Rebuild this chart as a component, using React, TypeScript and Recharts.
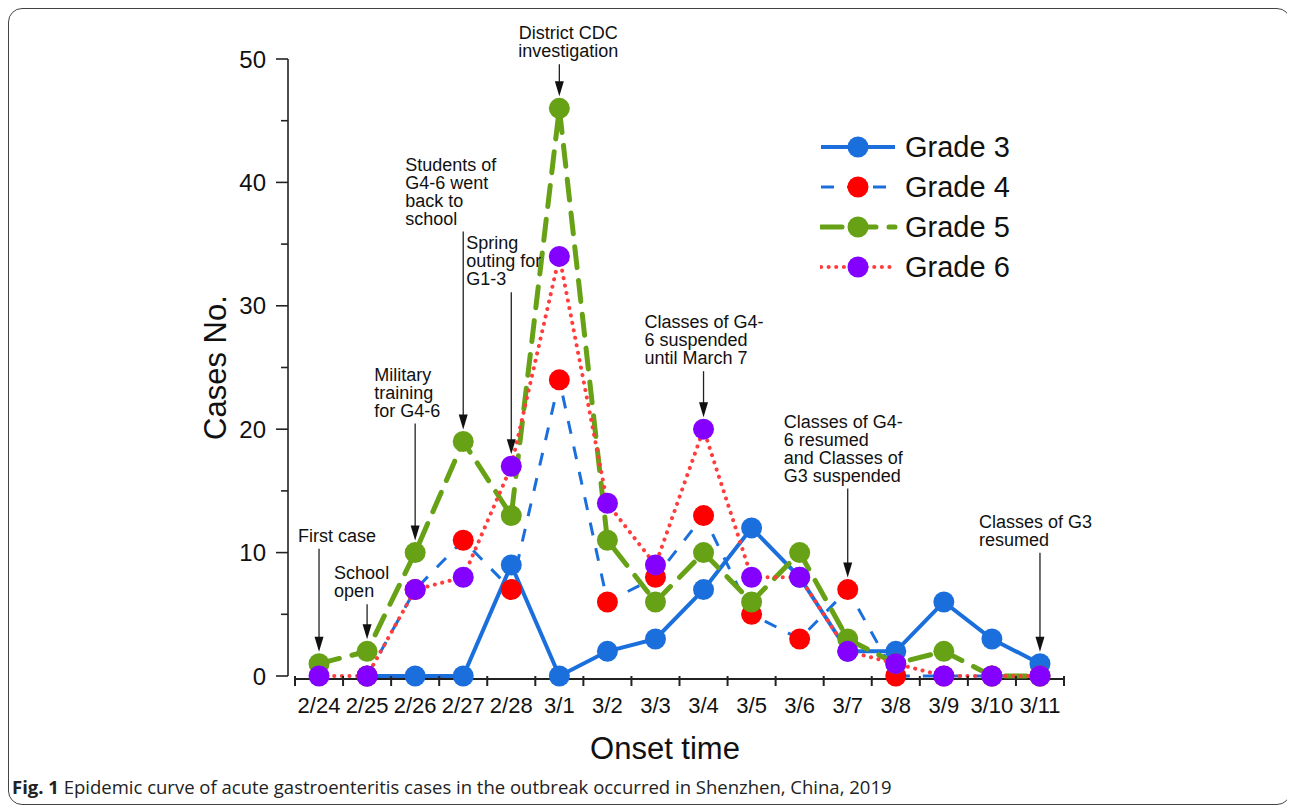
import React from "react";
import {
  Label,
  Legend,
  Line,
  LineChart,
  ReferenceDot,
  ReferenceLine,
  XAxis,
  YAxis
} from "recharts";

const dates = ["2/24", "2/25", "2/26", "2/27", "2/28", "3/1", "3/2", "3/3", "3/4", "3/5", "3/6", "3/7", "3/8", "3/9", "3/10", "3/11"];
const grade3 = [null, 0, 0, 0, 9, 0, 2, 3, 7, 12, 8, 2, 2, 6, 3, 1];
const grade4 = [null, 0, 7, 11, 7, 24, 6, 8, 13, 5, 3, 7, 0, 0, 0, 0];
const grade5 = [1, 2, 10, 19, 13, 46, 11, 6, 10, 6, 10, 3, 1, 2, 0, 0];
const grade6 = [0, 0, 7, 8, 17, 34, 14, 9, 20, 8, 8, 2, 1, 0, 0, 0];
const yTicks = [0, 5, 10, 15, 20, 25, 30, 35, 40, 45, 50];

const data = dates.map((d, i) => ({
  i,
  date: d,
  g3: grade3[i],
  g4: grade4[i],
  g5: grade5[i],
  g6: grade6[i]
}));

const xTicks = dates.map((_, i) => i);
const boundaryTicks = [...dates.map((_, i) => i - 0.5), dates.length - 0.5];

const series = [
  { key: "g3", name: "Grade 3", line: "#1b6fdc", dot: "#1b6fdc", width: 4, dash: undefined as string | undefined, cap: "butt" },
  { key: "g4", name: "Grade 4", line: "#1b6fdc", dot: "#ff0000", width: 3, dash: "13 13", cap: "butt" },
  { key: "g5", name: "Grade 5", line: "#67a116", dot: "#67a116", width: 5, dash: "21 13", cap: "round" },
  { key: "g6", name: "Grade 6", line: "#ff3d3d", dot: "#8400ff", width: 4, dash: "0.1 7.5", cap: "round" }
];

type Note = { x: number; y: number; lines: string[]; dx: number; lift: number; anchor: "start" | "middle" };

const notes: Note[] = [
  { x: 0, y: grade5[0], lines: ["First case"], dx: -21, lift: 110, anchor: "start" },
  { x: 1, y: grade5[1], lines: ["School", "open"], dx: -33, lift: 42, anchor: "start" },
  { x: 2, y: grade5[2], lines: ["Military", "training", "for G4-6"], dx: -41, lift: 124, anchor: "start" },
  { x: 3, y: grade5[3], lines: ["Students of", "G4-6 went", "back to", "school"], dx: -58, lift: 205, anchor: "start" },
  { x: 4, y: grade6[4], lines: ["Spring", "outing for", "G1-3"], dx: -45, lift: 169, anchor: "start" },
  { x: 5, y: grade5[5], lines: ["District CDC", "investigation"], dx: 9, lift: 39, anchor: "middle" },
  { x: 8, y: grade6[8], lines: ["Classes of G4-", "6 suspended", "until March 7"], dx: -59, lift: 53, anchor: "start" },
  { x: 11, y: grade4[11] as number, lines: ["Classes of G4-", "6 resumed", "and Classes of", "G3 suspended"], dx: -64, lift: 96, anchor: "start" },
  { x: 15, y: grade3[15] as number, lines: ["Classes of G3", "resumed"], dx: -61, lift: 106, anchor: "start" }
];

function NoteShape({ cx, cy, note }: { cx: number; cy: number; note: Note }) {
  const tip = cy - 12;
  const base = tip - note.lift;
  const top = base + 7;
  const n = note.lines.length;
  return (
    <g>
      <line x1={cx} x2={cx} y1={top} y2={tip - 13} stroke="#222" strokeWidth={1.3} />
      <path d={`M${cx - 4.5},${tip - 15} L${cx + 4.5},${tip - 15} L${cx},${tip} Z`} fill="#111" />
      <text fontSize={18} fill="#111" textAnchor={note.anchor}>
        {note.lines.map((l, k) => (
          <tspan key={k} x={cx + note.dx} y={base - (n - 1 - k) * 18}>
            {l}
          </tspan>
        ))}
      </text>
    </g>
  );
}

function YTick(props: any) {
  const { x, y, payload } = props;
  const major = payload.value % 10 === 0;
  return (
    <g>
      <line x1={x - (major ? 12 : 7)} x2={x} y1={y} y2={y} stroke="#222" strokeWidth={1.6} />
      {major && (
        <text x={x - 22} y={y} dy="0.36em" textAnchor="end" fontSize={24} fill="#111">
          {payload.value}
        </text>
      )}
    </g>
  );
}

function LegendBox() {
  return (
    <div>
      {series.map((s) => (
        <div key={s.key} style={{ display: "flex", alignItems: "center", height: 40 }}>
          <svg width={80} height={40}>
            <line
              x1={1}
              x2={75}
              y1={20}
              y2={20}
              stroke={s.line}
              strokeWidth={s.width}
              strokeDasharray={s.dash}
              strokeLinecap={s.cap as any}
            />
            <circle cx={38} cy={20} r={10.5} fill={s.dot} />
          </svg>
          <span style={{ fontSize: 29, lineHeight: "40px", marginLeft: 5, color: "#111" }}>{s.name}</span>
        </div>
      ))}
    </div>
  );
}

export default function App() {
  return (
    <div
      style={{
        position: "relative",
        width: 1281,
        height: 795,
        border: "1px solid #444",
        borderRadius: 14,
        fontFamily: "'Liberation Sans', Arial, sans-serif",
        background: "#fff"
      }}
    >
      <div style={{ position: "absolute", left: 0, top: 0 }}>
        <LineChart width={1200} height={770} data={data} margin={{ top: 50, right: 145, left: 189, bottom: 39 }}>
          <XAxis xAxisId="gap" dataKey="i" type="number" domain={[-0.5, 15.5]} height={3} tick={false} tickLine={false} axisLine={false} padding={{ left: 7, right: 0 }} />
          <XAxis
            xAxisId="b"
            dataKey="i"
            type="number"
            domain={[-0.5, 15.5]}
            ticks={boundaryTicks}
            interval={0}
            height={1}
            tick={() => <g />}
            tickSize={10}
            tickLine={{ stroke: "#222", strokeWidth: 2 }}
            axisLine={false}
            padding={{ left: 7, right: 0 }}
          />
          <XAxis
            xAxisId="m"
            dataKey="i"
            type="number"
            domain={[-0.5, 15.5]}
            ticks={xTicks}
            interval={0}
            height={60}
            tickFormatter={(v) => dates[v]}
            tick={{ fontSize: 22, fill: "#111" }}
            tickSize={0}
            tickMargin={17}
            tickLine={false}
            axisLine={false}
            padding={{ left: 7, right: 0 }}
          >
            <Label
              content={(p: any) => {
                const vb = p.viewBox;
                const cx = vb.x + vb.width / 2 - 11;
                const cy = vb.y + 68;
                return (
                  <text x={cx} y={cy} textAnchor="middle" dominantBaseline="central" fontSize={31} fill="#111">
                    Onset time
                  </text>
                );
              }}
            />
          </XAxis>
          <YAxis
            type="number"
            domain={[0, 50]}
            ticks={yTicks}
            interval={0}
            width={90}
            tickSize={0}
            tickMargin={0}
            tickLine={false}
            tick={<YTick />}
            axisLine={{ stroke: "#222", strokeWidth: 1.6 }}
          >
            <Label
              content={(p: any) => {
                const vb = p.viewBox;
                const cx = vb.x + 17;
                const cy = vb.y + vb.height / 2;
                return (
                  <text
                    x={cx}
                    y={cy}
                    transform={`rotate(-90 ${cx} ${cy})`}
                    textAnchor="middle"
                    dominantBaseline="central"
                    fontSize={31}
                    fill="#111"
                  >
                    Cases No.
                  </text>
                );
              }}
            />
          </YAxis>
          <ReferenceLine
            xAxisId="m"
            segment={[
              { x: -0.5, y: -0.24 },
              { x: 15.5, y: -0.24 }
            ]}
            stroke="#222"
            strokeWidth={2}
            ifOverflow="visible"
          />
          {series.map((s) => (
            <Line
              key={s.key}
              xAxisId="m"
              type="linear"
              dataKey={s.key}
              name={s.name}
              stroke={s.line}
              strokeWidth={s.width}
              strokeDasharray={s.dash}
              strokeLinecap={s.cap as any}
              dot={{ r: 10.5, fill: s.dot, stroke: "none", strokeDasharray: "" }}
              activeDot={false}
              isAnimationActive={false}
            />
          ))}
          {notes.map((n, k) => (
            <ReferenceDot
              key={k}
              xAxisId="m"
              x={n.x}
              y={n.y}
              r={11}
              ifOverflow="visible"
              shape={(p: any) => <NoteShape cx={p.cx} cy={p.cy} note={n} />}
            />
          ))}
          <Legend
            layout="vertical"
            align="center"
            verticalAlign="middle"
            wrapperStyle={{ left: 811, top: 118, width: 240 }}
            content={() => <LegendBox />}
          />
        </LineChart>
      </div>
      <div
        style={{
          position: "absolute",
          left: 3,
          top: 766,
          fontFamily: "'Open Sans', sans-serif",
          fontSize: 18.5,
          lineHeight: "24px",
          color: "#222",
          whiteSpace: "nowrap"
        }}
      >
        <b>Fig. 1</b> Epidemic curve of acute gastroenteritis cases in the outbreak occurred in Shenzhen, China, 2019
      </div>
    </div>
  );
}
